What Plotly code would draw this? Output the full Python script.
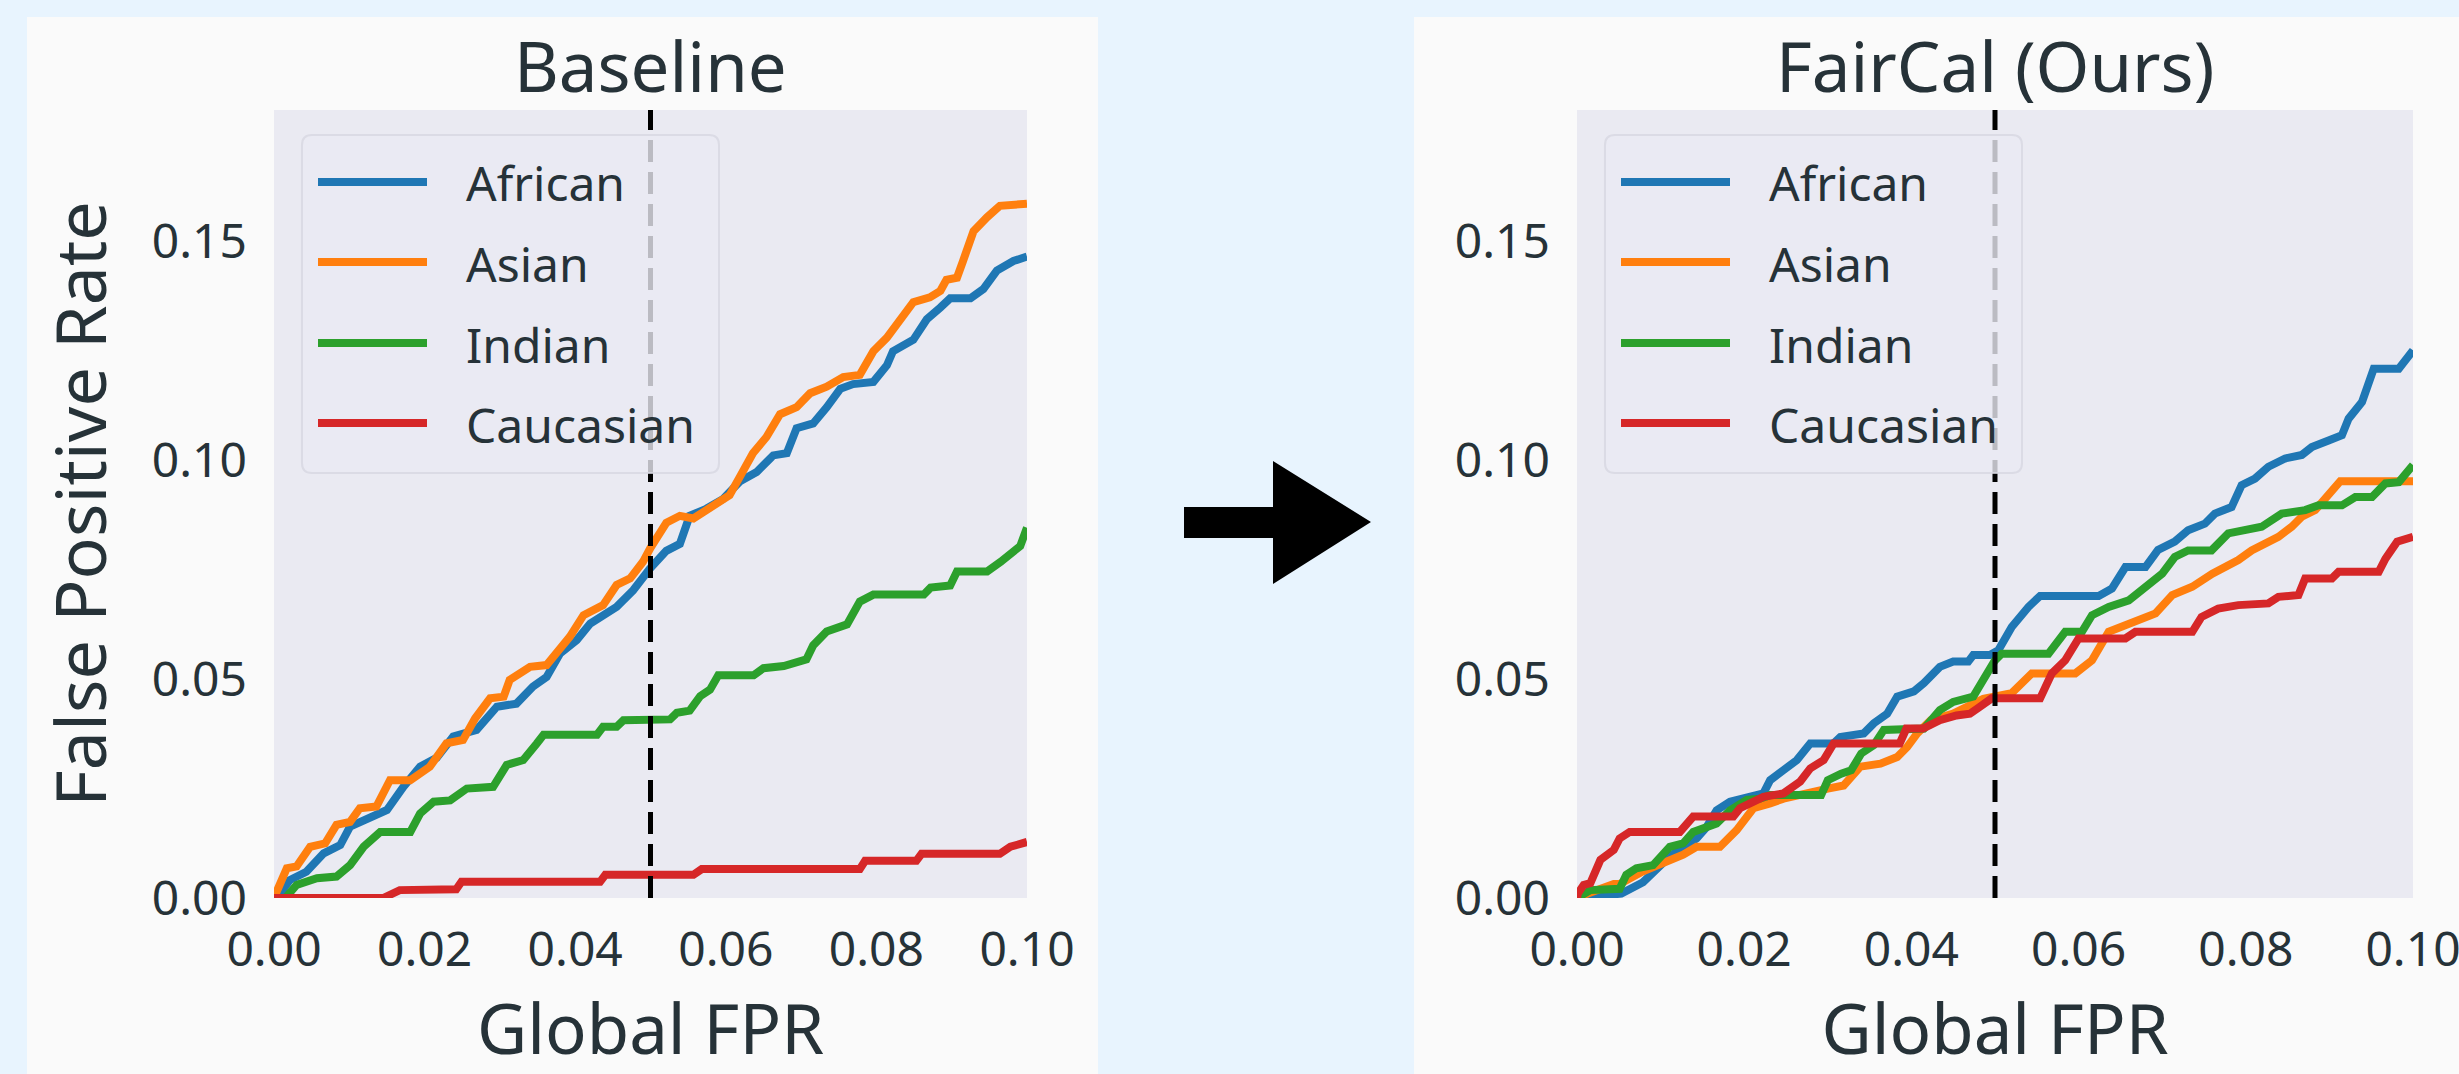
import plotly.graph_objects as go

W, H = 2459, 1074

# ---------------- data ----------------
groups = ["African", "Asian", "Indian", "Caucasian"]
colors = ["#1f77b4", "#ff7f0e", "#2ca02c", "#d62728"]
panel_titles = ["Baseline", "FairCal (Ours)"]
x_ticks = [0.0, 0.02, 0.04, 0.06, 0.08, 0.10]
x_tick_labels = ["0.00", "0.02", "0.04", "0.06", "0.08", "0.10"]
y_ticks = [0.0, 0.05, 0.10, 0.15]
y_tick_labels = ["0.00", "0.05", "0.10", "0.15"]
threshold_fpr = 0.05
x_label = "Global FPR"
y_label = "False Positive Rate"

# Baseline panel
base_african_x = [0, 0.0004, 0.0021, 0.0043, 0.0066, 0.0088, 0.0101, 0.0128, 0.0150, 0.0172, 0.0194, 0.0216, 0.0238, 0.0269, 0.0296, 0.0322, 0.0344, 0.0362, 0.0380, 0.0402, 0.0420, 0.0455, 0.0477, 0.0499, 0.0521, 0.0539, 0.0552, 0.0574, 0.0596, 0.0619, 0.0641, 0.0663, 0.0681, 0.0694, 0.0716, 0.0734, 0.0752, 0.0769, 0.0796, 0.0814, 0.0822, 0.0849, 0.0867, 0.0885, 0.0898, 0.0925, 0.0942, 0.0960, 0.0982, 0.1000]
base_african_y = [0, 0, 0.0041, 0.0060, 0.0102, 0.0121, 0.0163, 0.0182, 0.0201, 0.0254, 0.0300, 0.0320, 0.0369, 0.0384, 0.0437, 0.0444, 0.0483, 0.0505, 0.0559, 0.0589, 0.0627, 0.0665, 0.0703, 0.0752, 0.0793, 0.0809, 0.0873, 0.0889, 0.0911, 0.0952, 0.0973, 0.1011, 0.1016, 0.1073, 0.1084, 0.1121, 0.1163, 0.1174, 0.1179, 0.1217, 0.1249, 0.1275, 0.1322, 0.1349, 0.1370, 0.1370, 0.1391, 0.1433, 0.1455, 0.1465]

base_asian_x = [0, 0.0017, 0.0030, 0.0048, 0.0068, 0.0083, 0.0101, 0.0114, 0.0136, 0.0154, 0.0181, 0.0207, 0.0229, 0.0251, 0.0267, 0.0287, 0.0305, 0.0313, 0.0340, 0.0362, 0.0380, 0.0393, 0.0411, 0.0437, 0.0455, 0.0473, 0.0490, 0.0500, 0.0521, 0.0539, 0.0557, 0.0583, 0.0605, 0.0619, 0.0636, 0.0654, 0.0672, 0.0694, 0.0712, 0.0734, 0.0756, 0.0778, 0.0796, 0.0814, 0.0836, 0.0849, 0.0871, 0.0885, 0.0893, 0.0907, 0.0915, 0.0929, 0.0947, 0.0964, 0.1000]
base_asian_y = [0, 0.0068, 0.0072, 0.0117, 0.0125, 0.0167, 0.0174, 0.0205, 0.0209, 0.0269, 0.0269, 0.0300, 0.0353, 0.0361, 0.0410, 0.0456, 0.0460, 0.0498, 0.0528, 0.0532, 0.0570, 0.0597, 0.0646, 0.0669, 0.0715, 0.0730, 0.0768, 0.0800, 0.0857, 0.0873, 0.0867, 0.0894, 0.0920, 0.0963, 0.1016, 0.1053, 0.1105, 0.1121, 0.1153, 0.1168, 0.1190, 0.1195, 0.1249, 0.1280, 0.1333, 0.1361, 0.1372, 0.1387, 0.1412, 0.1417, 0.1455, 0.1523, 0.1555, 0.1581, 0.1586]

base_indian_x = [0, 0.0015, 0.0030, 0.0057, 0.0083, 0.0101, 0.0119, 0.0141, 0.0181, 0.0194, 0.0212, 0.0234, 0.0256, 0.0291, 0.0309, 0.0331, 0.0349, 0.0358, 0.0429, 0.0437, 0.0455, 0.0464, 0.0526, 0.0535, 0.0552, 0.0566, 0.0579, 0.0590, 0.0637, 0.0650, 0.0677, 0.0694, 0.0707, 0.0716, 0.0734, 0.0761, 0.0778, 0.0796, 0.0863, 0.0872, 0.0898, 0.0907, 0.0947, 0.0965, 0.0991, 0.1000]
base_indian_y = [0, 0, 0.0030, 0.0045, 0.0049, 0.0075, 0.0117, 0.0151, 0.0151, 0.0193, 0.0220, 0.0223, 0.0250, 0.0254, 0.0304, 0.0315, 0.0353, 0.0373, 0.0373, 0.0391, 0.0391, 0.0406, 0.0408, 0.0423, 0.0428, 0.0461, 0.0476, 0.0509, 0.0509, 0.0525, 0.0530, 0.0540, 0.0545, 0.0577, 0.0609, 0.0625, 0.0677, 0.0693, 0.0693, 0.0709, 0.0714, 0.0746, 0.0746, 0.0768, 0.0804, 0.0846]

base_caucasian_x = [0, 0.0145, 0.0167, 0.0242, 0.0249, 0.0433, 0.0440, 0.0557, 0.0568, 0.0778, 0.0785, 0.0853, 0.0860, 0.0964, 0.0978, 0.1000]
base_caucasian_y = [0, 0, 0.0018, 0.0020, 0.0037, 0.0037, 0.0053, 0.0053, 0.0066, 0.0066, 0.0085, 0.0085, 0.0101, 0.0101, 0.0117, 0.0128]

# FairCal panel
fc_african_x = [0, 0.0053, 0.0079, 0.0111, 0.0143, 0.0155, 0.0167, 0.0183, 0.0223, 0.0231, 0.0247, 0.0263, 0.0279, 0.0307, 0.0315, 0.0343, 0.0355, 0.0371, 0.0383, 0.0403, 0.0415, 0.0434, 0.0450, 0.0468, 0.0474, 0.0494, 0.0504, 0.0520, 0.0540, 0.0554, 0.0624, 0.0640, 0.0656, 0.0680, 0.0695, 0.0715, 0.0731, 0.0751, 0.0763, 0.0783, 0.0795, 0.0811, 0.0827, 0.0847, 0.0867, 0.0879, 0.0899, 0.0915, 0.0923, 0.0939, 0.0953, 0.0983, 0.1000]
fc_african_y = [0, 0.0010, 0.0036, 0.0095, 0.0136, 0.0162, 0.0200, 0.0220, 0.0239, 0.0269, 0.0292, 0.0315, 0.0353, 0.0353, 0.0368, 0.0376, 0.0399, 0.0421, 0.0460, 0.0472, 0.0491, 0.0528, 0.0540, 0.0540, 0.0555, 0.0555, 0.0566, 0.0619, 0.0665, 0.0690, 0.0690, 0.0707, 0.0756, 0.0756, 0.0795, 0.0814, 0.0840, 0.0855, 0.0878, 0.0893, 0.0943, 0.0958, 0.0985, 0.1004, 0.1012, 0.1030, 0.1045, 0.1057, 0.1095, 0.1133, 0.1209, 0.1209, 0.1251]

fc_asian_x = [0, 0.0004, 0.0044, 0.0051, 0.0079, 0.0103, 0.0127, 0.0143, 0.0171, 0.0191, 0.0211, 0.0231, 0.0247, 0.0300, 0.0319, 0.0339, 0.0363, 0.0383, 0.0395, 0.0407, 0.0423, 0.0450, 0.0486, 0.0520, 0.0544, 0.0596, 0.0616, 0.0636, 0.0656, 0.0676, 0.0692, 0.0712, 0.0736, 0.0760, 0.0791, 0.0807, 0.0839, 0.0855, 0.0867, 0.0883, 0.0899, 0.0913, 0.1000]
fc_asian_y = [0, 0.0004, 0.0032, 0.0032, 0.0061, 0.0080, 0.0099, 0.0117, 0.0117, 0.0155, 0.0205, 0.0216, 0.0227, 0.0250, 0.0257, 0.0300, 0.0307, 0.0322, 0.0345, 0.0376, 0.0406, 0.0421, 0.0455, 0.0468, 0.0513, 0.0513, 0.0543, 0.0608, 0.0623, 0.0642, 0.0650, 0.0692, 0.0711, 0.0741, 0.0772, 0.0794, 0.0825, 0.0848, 0.0871, 0.0886, 0.0924, 0.0952, 0.0952]

fc_indian_x = [0, 0.0004, 0.0016, 0.0051, 0.0059, 0.0071, 0.0091, 0.0111, 0.0127, 0.0139, 0.0155, 0.0167, 0.0183, 0.0203, 0.0219, 0.0231, 0.0292, 0.0300, 0.0316, 0.0328, 0.0340, 0.0355, 0.0367, 0.0395, 0.0415, 0.0434, 0.0450, 0.0474, 0.0490, 0.0500, 0.0508, 0.0564, 0.0584, 0.0604, 0.0616, 0.0636, 0.0660, 0.0680, 0.0700, 0.0715, 0.0731, 0.0759, 0.0779, 0.0819, 0.0843, 0.0871, 0.0887, 0.0915, 0.0931, 0.0951, 0.0967, 0.0983, 0.1000]
fc_indian_y = [0, 0.0004, 0.0018, 0.0021, 0.0053, 0.0068, 0.0075, 0.0117, 0.0125, 0.0151, 0.0162, 0.0170, 0.0200, 0.0224, 0.0227, 0.0235, 0.0235, 0.0269, 0.0284, 0.0292, 0.0330, 0.0349, 0.0384, 0.0387, 0.0387, 0.0429, 0.0448, 0.0460, 0.0513, 0.0543, 0.0558, 0.0558, 0.0608, 0.0608, 0.0646, 0.0665, 0.0680, 0.0711, 0.0741, 0.0779, 0.0794, 0.0794, 0.0833, 0.0848, 0.0878, 0.0886, 0.0897, 0.0897, 0.0916, 0.0916, 0.0947, 0.0950, 0.0989]

fc_caucasian_x = [0, 0.0001, 0.0008, 0.0016, 0.0028, 0.0044, 0.0051, 0.0063, 0.0123, 0.0139, 0.0187, 0.0195, 0.0223, 0.0247, 0.0267, 0.0279, 0.0295, 0.0307, 0.0386, 0.0394, 0.0414, 0.0434, 0.0454, 0.0470, 0.0482, 0.0496, 0.0554, 0.0568, 0.0584, 0.0600, 0.0656, 0.0668, 0.0736, 0.0747, 0.0767, 0.0791, 0.0827, 0.0839, 0.0863, 0.0871, 0.0903, 0.0911, 0.0959, 0.0967, 0.0981, 0.1000]
fc_caucasian_y = [0, 0.0010, 0.0030, 0.0034, 0.0087, 0.0110, 0.0136, 0.0151, 0.0151, 0.0186, 0.0186, 0.0205, 0.0231, 0.0239, 0.0266, 0.0296, 0.0315, 0.0353, 0.0353, 0.0387, 0.0387, 0.0406, 0.0417, 0.0421, 0.0437, 0.0456, 0.0456, 0.0513, 0.0543, 0.0593, 0.0593, 0.0608, 0.0608, 0.0642, 0.0661, 0.0669, 0.0673, 0.0688, 0.0692, 0.0730, 0.0730, 0.0745, 0.0745, 0.0775, 0.0814, 0.0825]

panels = [
    [(base_african_x, base_african_y), (base_asian_x, base_asian_y),
     (base_indian_x, base_indian_y), (base_caucasian_x, base_caucasian_y)],
    [(fc_african_x, fc_african_y), (fc_asian_x, fc_asian_y),
     (fc_indian_x, fc_indian_y), (fc_caucasian_x, fc_caucasian_y)],
]

# ---------------- styling ----------------
FONT = "Noto Sans"
TXT = "#263238"
OUTER_BG = "#E8F4FE"
PANEL_BG = "#FAFAFA"
PLOT_BG = "#EAEAF2"

# pixel geometry
plot_boxes = [(274, 1027), (1577, 2413)]   # x-pixels of each plot area
plot_top, plot_bottom = 110, 898
panel_boxes = [(27, 1098), (1414, 2470)]
panel_top = 17


def px(x):
    return x / W


def py(y):
    return 1 - y / H


fig = go.Figure()

axis_names = [("x", "y"), ("x2", "y2")]
for p, series in enumerate(panels):
    xa, ya = axis_names[p]
    for g, (xs, ys) in enumerate(series):
        fig.add_trace(go.Scatter(
            x=xs, y=ys, mode="lines", name=groups[g],
            line=dict(color=colors[g], width=8),
            xaxis=xa, yaxis=ya, showlegend=False,
        ))
    # global FPR threshold line
    fig.add_trace(go.Scatter(
        x=[threshold_fpr, threshold_fpr], y=[0, 0.18], mode="lines",
        line=dict(color="black", width=5, dash="22px,10px"),
        xaxis=xa, yaxis=ya, showlegend=False, hoverinfo="skip",
    ))

shapes = []
# panel backgrounds
for (x0, x1) in panel_boxes:
    shapes.append(dict(type="rect", xref="paper", yref="paper",
                       x0=px(x0), x1=px(x1), y0=py(H + 5), y1=py(panel_top),
                       fillcolor=PANEL_BG, line=dict(width=0), layer="below"))
# plot area backgrounds
for (x0, x1) in plot_boxes:
    shapes.append(dict(type="rect", xref="paper", yref="paper",
                       x0=px(x0), x1=px(x1), y0=py(plot_bottom), y1=py(plot_top),
                       fillcolor=PLOT_BG, line=dict(width=0), layer="below"))

# arrow between panels
arrow_pts = [(1184, 507), (1273, 507), (1273, 461), (1371, 522),
             (1273, 584), (1273, 538), (1184, 538)]
path = "M " + " L ".join(f"{px(a):.5f},{py(b):.5f}" for a, b in arrow_pts) + " Z"
shapes.append(dict(type="path", xref="paper", yref="paper", path=path,
                   fillcolor="black", line=dict(width=0), layer="above"))

annotations = []


def rounded_rect(x0, y0, x1, y1, r):
    pts = [
        f"M {px(x0 + r):.5f},{py(y0):.5f}",
        f"L {px(x1 - r):.5f},{py(y0):.5f}",
        f"Q {px(x1):.5f},{py(y0):.5f} {px(x1):.5f},{py(y0 + r):.5f}",
        f"L {px(x1):.5f},{py(y1 - r):.5f}",
        f"Q {px(x1):.5f},{py(y1):.5f} {px(x1 - r):.5f},{py(y1):.5f}",
        f"L {px(x0 + r):.5f},{py(y1):.5f}",
        f"Q {px(x0):.5f},{py(y1):.5f} {px(x0):.5f},{py(y1 - r):.5f}",
        f"L {px(x0):.5f},{py(y0 + r):.5f}",
        f"Q {px(x0):.5f},{py(y0):.5f} {px(x0 + r):.5f},{py(y0):.5f} Z",
    ]
    return " ".join(pts)


legend_rows = [182, 262, 343, 423]
for p, (x0, x1) in enumerate(plot_boxes):
    # legend frame
    lx0, lx1 = x0 + 28, x0 + 445
    shapes.append(dict(type="path", xref="paper", yref="paper",
                       path=rounded_rect(lx0, 135, lx1, 473, 10),
                       fillcolor="rgba(234,234,242,0.8)",
                       line=dict(color="rgba(215,215,225,0.8)", width=2),
                       layer="above"))
    for g, ry in enumerate(legend_rows):
        shapes.append(dict(type="line", xref="paper", yref="paper",
                           x0=px(x0 + 44), x1=px(x0 + 153), y0=py(ry), y1=py(ry),
                           line=dict(color=colors[g], width=8), layer="above"))
        annotations.append(dict(text=groups[g], xref="paper", yref="paper",
                                x=px(x0 + 190), y=py(ry + 1), xanchor="left",
                                yanchor="middle", showarrow=False,
                                font=dict(family=FONT, size=48, color=TXT)))
    # panel title
    annotations.append(dict(text=panel_titles[p], xref="paper", yref="paper",
                            x=px((x0 + x1) / 2), y=py(65), xanchor="center",
                            yanchor="middle", showarrow=False,
                            font=dict(family=FONT, size=69, color=TXT)))

axis_common = dict(showgrid=False, zeroline=False, showline=False, ticks="",
                   automargin=False, ticklabeloverflow="allow",
                   tickfont=dict(family=FONT, size=48, color=TXT))

fig.update_layout(
    template="none",
    width=W, height=H, autosize=False,
    margin=dict(l=0, r=0, t=0, b=0, pad=0),
    paper_bgcolor=OUTER_BG, plot_bgcolor="rgba(0,0,0,0)",
    showlegend=False,
    shapes=shapes, annotations=annotations,
    xaxis=dict(domain=[px(plot_boxes[0][0]), px(plot_boxes[0][1])], range=[0, 0.1],
               anchor="y", tickvals=x_ticks, ticktext=x_tick_labels,
               ticklabelstandoff=19,
               title=dict(text=x_label, font=dict(family=FONT, size=69, color=TXT),
                          standoff=9),
               **axis_common),
    yaxis=dict(domain=[py(plot_bottom), py(plot_top)], range=[0, 0.18], anchor="x",
               tickvals=y_ticks, ticktext=y_tick_labels, ticklabelstandoff=26,
               title=dict(text=y_label, font=dict(family=FONT, size=70, color=TXT),
                          standoff=22),
               **axis_common),
    xaxis2=dict(domain=[px(plot_boxes[1][0]), px(plot_boxes[1][1])], range=[0, 0.1],
                anchor="y2", tickvals=x_ticks, ticktext=x_tick_labels,
                ticklabelstandoff=19,
                title=dict(text=x_label, font=dict(family=FONT, size=69, color=TXT),
                           standoff=9),
                **axis_common),
    yaxis2=dict(domain=[py(plot_bottom), py(plot_top)], range=[0, 0.18], anchor="x2",
                tickvals=y_ticks, ticktext=y_tick_labels, ticklabelstandoff=26,
                **axis_common),
)

fig.write_html("out.html", include_plotlyjs=True, full_html=True,
               config={"displayModeBar": False},
               post_script="document.body.style.margin='0';document.body.style.overflow='hidden';")
